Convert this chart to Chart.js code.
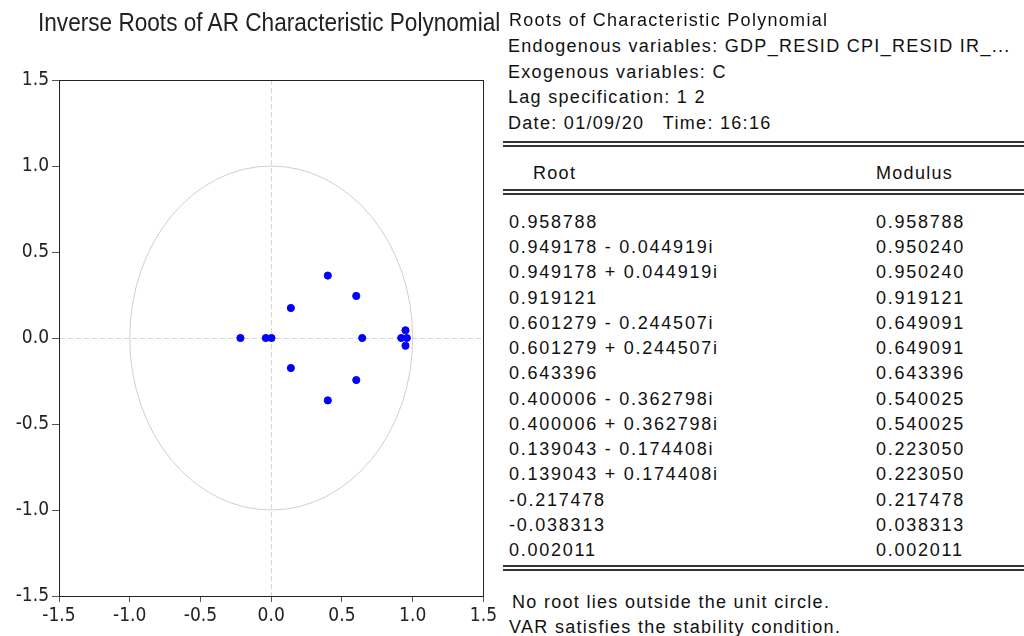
<!DOCTYPE html>
<html>
<head>
<meta charset="utf-8">
<script src="https://cdn.jsdelivr.net/npm/chart.js@4.4.0/dist/chart.umd.min.js"></script>
<style>
  body { margin: 0; background: #fff; width: 1024px; height: 636px; overflow: hidden; position: relative; }
  #chartBox { position: absolute; left: 0; top: 0; width: 500px; height: 636px; }
  .title { position: absolute; left: 38px; top: 9px; font-family: 'Liberation Sans', Arial, sans-serif; font-size: 25px; color: #222; white-space: nowrap; line-height: 26px; transform-origin: 0 0; }
  .txt { position: absolute; font-family: 'Liberation Sans', Arial, sans-serif; font-size: 18px; color: #111; white-space: nowrap; line-height: 20px; letter-spacing: 1.3px; }
  .num { letter-spacing: 1.75px; }
  .dbl { position: absolute; left: 503px; width: 521px; height: 2px; border-top: 2px solid #333; border-bottom: 2px solid #333; }
</style>
</head>
<body>
<div id="chartBox"><canvas id="rootsChart" width="500" height="636"></canvas></div>
<div class="title" id="title">Inverse Roots of AR Characteristic Polynomial</div>
<div id="table"></div>
<script>
// roots of the characteristic polynomial (real / imaginary parts) and modulus
var rootReal = [0.958788, 0.949178, 0.949178, 0.919121, 0.601279, 0.601279, 0.643396, 0.400006, 0.400006, 0.139043, 0.139043, -0.217478, -0.038313, 0.002011];
var rootImag = [0, -0.044919, 0.044919, 0, -0.244507, 0.244507, 0, -0.362798, 0.362798, -0.174408, 0.174408, 0, 0, 0];
var rootModulus = [0.958788, 0.950240, 0.950240, 0.919121, 0.649091, 0.649091, 0.643396, 0.540025, 0.540025, 0.223050, 0.223050, 0.217478, 0.038313, 0.002011];
var axisTicks = [-1.5, -1.0, -0.5, 0.0, 0.5, 1.0, 1.5];

var headerLines = [
  'Roots of Characteristic Polynomial',
  'Endogenous variables: GDP_RESID CPI_RESID IR_...',
  'Exogenous variables: C',
  'Lag specification: 1 2',
  'Date: 01/09/20\u00a0\u00a0 Time: 16:16'
];
var footerLines = [
  'No root lies outside the unit circle.',
  'VAR satisfies the stability condition.'
];

// squeeze the title into the narrow look of the original
var titleEl = document.getElementById('title');
titleEl.style.transform = 'scaleX(' + (462 / titleEl.offsetWidth) + ')';

// right-hand table
var html = '';
function addText(x, cy, t, cls) {
  html += '<div class="txt ' + (cls || '') + '" style="left:' + x + 'px;top:' + (cy - 10) + 'px">' + t + '</div>';
}
for (var i = 0; i < headerLines.length; i++) {
  addText(i === 0 ? 509 : 508, 20 + i * 25.8, headerLines[i]);
}
html += '<div class="dbl" style="top:141px"></div>';
addText(533, 173, 'Root');
addText(876, 173, 'Modulus');
html += '<div class="dbl" style="top:189px"></div>';
for (var i = 0; i < rootReal.length; i++) {
  var label = rootReal[i].toFixed(6);
  if (rootImag[i] !== 0) {
    label += (rootImag[i] < 0 ? ' - ' : ' + ') + Math.abs(rootImag[i]).toFixed(6) + 'i';
  }
  addText(509, 222 + i * 25.23, label, 'num');
  addText(876, 222 + i * 25.23, rootModulus[i].toFixed(6), 'num');
}
html += '<div class="dbl" style="top:565px"></div>';
addText(512, 602, footerLines[0]);
addText(509, 627, footerLines[1]);
document.getElementById('table').innerHTML = html;

var points = [];
for (var i = 0; i < rootReal.length; i++) {
  points.push({ x: rootReal[i], y: rootImag[i] });
}

// unit circle and plot frame drawn through the scales
var unitCircle = {
  id: 'unitCircle',
  beforeDatasetsDraw: function(chart) {
    var ctx = chart.ctx, xs = chart.scales.x, ys = chart.scales.y;
    var cx = xs.getPixelForValue(0), cy = ys.getPixelForValue(0);
    var rx = Math.abs(xs.getPixelForValue(1) - cx), ry = Math.abs(ys.getPixelForValue(1) - cy);
    ctx.save();
    ctx.strokeStyle = '#cfcfcf';
    ctx.lineWidth = 1;
    ctx.beginPath();
    ctx.ellipse(cx, cy, rx, ry, 0, 0, Math.PI * 2);
    ctx.stroke();
    ctx.restore();
  },
  afterDraw: function(chart) {
    var a = chart.chartArea, ctx = chart.ctx;
    ctx.save();
    ctx.strokeStyle = '#222';
    ctx.lineWidth = 1;
    ctx.strokeRect(Math.round(a.left) + 0.5, Math.round(a.top) + 0.5, Math.round(a.right - a.left), Math.round(a.bottom - a.top));
    ctx.restore();
  }
};

var tickFont = { family: "'DejaVu Sans Condensed', 'Liberation Sans', sans-serif", size: 19 };
var zeroGrid = function(c) { return c.tick && c.tick.value === 0 ? '#d6d6d6' : 'rgba(0,0,0,0)'; };

new Chart(document.getElementById('rootsChart'), {
  type: 'scatter',
  data: {
    datasets: [{
      data: points,
      backgroundColor: '#0000ff',
      borderColor: '#0000ff',
      pointRadius: 3.6,
      pointHoverRadius: 3.6
    }]
  },
  options: {
    responsive: false,
    animation: false,
    layout: { padding: { top: 80, right: 16, left: 0, bottom: 0 } },
    plugins: { legend: { display: false }, tooltip: { enabled: false } },
    scales: {
      x: {
        min: -1.5, max: 1.5,
        afterBuildTicks: function(s) { s.ticks = axisTicks.map(function(v) { return { value: v }; }); },
        ticks: { color: '#222', font: tickFont, padding: 3, maxRotation: 0, autoSkip: false,
          callback: function(v) { return v.toFixed(1); } },
        grid: { color: zeroGrid, tickColor: '#555', tickLength: 6, lineWidth: 1 },
        border: { display: true, color: '#222', dash: [5, 3] },
        afterFit: function(s) { s.height = 40; }
      },
      y: {
        min: -1.5, max: 1.5,
        afterBuildTicks: function(s) { s.ticks = axisTicks.map(function(v) { return { value: v }; }); },
        ticks: { color: '#222', font: tickFont, padding: 3,
          callback: function(v) { return v.toFixed(1); } },
        grid: { color: zeroGrid, tickColor: '#555', tickLength: 7, lineWidth: 1 },
        border: { display: true, color: '#222', dash: [5, 3] },
        afterFit: function(s) { s.width = 59; }
      }
    }
  },
  plugins: [unitCircle]
});
</script>
</body>
</html>
